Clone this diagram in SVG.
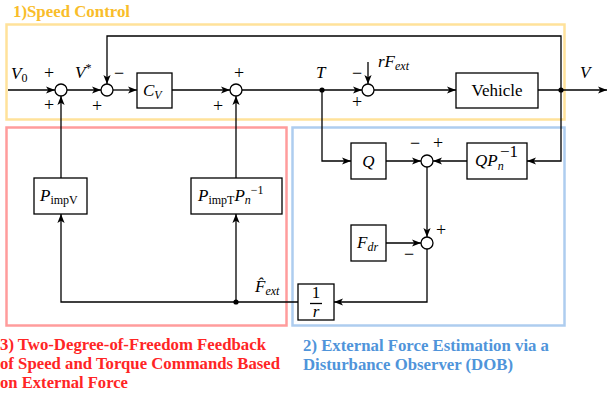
<svg xmlns="http://www.w3.org/2000/svg" width="608" height="394" viewBox="0 0 608 394">
  <style>
    .wire { fill: none; stroke: #000; stroke-width: 1.3; }
    .arr { marker-end: url(#tip); }
    .blk { fill: #fff; stroke: #000; stroke-width: 1.3; }
    .sum { fill: #fff; stroke: #000; stroke-width: 1.3; }
    .dot { fill: #000; }
    .m { font-style: italic; font-size: 17px; fill: #000; }
    .r { font-style: normal; font-size: 17px; fill: #000; }
    .sg { font-size: 18px; fill: #000; text-anchor: middle; }
    .cap { font-weight: bold; font-size: 16.5px; }
  </style>
  <defs>
    <marker id="tip" viewBox="0 0 10 8" refX="10" refY="4" markerWidth="9" markerHeight="7.5" markerUnits="userSpaceOnUse" orient="auto">
      <path d="M0,0 L10,4 L0,8 L2.5,4 z" fill="#000"/>
    </marker>
  </defs>

  <!-- section frames -->
  <g id="frames" fill="none" stroke-width="2.5">
    <rect x="6.5" y="24.5" width="558" height="95" stroke="#FFE29A"/>
    <rect x="6.5" y="127.5" width="280" height="198" stroke="#FF9C9C"/>
    <rect x="292.5" y="127.5" width="272" height="198" stroke="#AECDEF"/>
  </g>

  <g font-family="'Liberation Serif', 'Times New Roman', serif">
  <!-- section captions -->
  <g id="captions">
    <text class="cap" x="13" y="17" fill="#F9BD2A" textLength="117" lengthAdjust="spacingAndGlyphs">1)Speed Control</text>
    <text class="cap" fill="#FF2525">
      <tspan x="0" y="350" textLength="266" lengthAdjust="spacingAndGlyphs">3) Two-Degree-of-Freedom Feedback</tspan>
      <tspan x="0" y="369" textLength="280" lengthAdjust="spacingAndGlyphs">of Speed and Torque Commands Based</tspan>
      <tspan x="0" y="388" textLength="128" lengthAdjust="spacingAndGlyphs">on External Force</tspan>
    </text>
    <text class="cap" fill="#4F94DA">
      <tspan x="303" y="351" textLength="246" lengthAdjust="spacingAndGlyphs">2) External Force Estimation via a</tspan>
      <tspan x="303" y="370" textLength="210" lengthAdjust="spacingAndGlyphs">Disturbance Observer (DOB)</tspan>
    </text>
  </g>

  <!-- connectors -->
  <g id="connectors">
    <line class="wire arr" x1="8" y1="90" x2="55" y2="90"/>
    <line class="wire arr" x1="67" y1="90" x2="101" y2="90"/>
    <line class="wire arr" x1="113" y1="90" x2="137" y2="90"/>
    <line class="wire arr" x1="172" y1="90" x2="230" y2="90"/>
    <line class="wire arr" x1="242" y1="90" x2="362" y2="90"/>
    <line class="wire arr" x1="374" y1="90" x2="456" y2="90"/>
    <line class="wire arr" x1="538" y1="90" x2="607" y2="90"/>
    <polyline class="wire arr" points="561,90 561,36 107,36 107,84"/>
    <line class="wire arr" x1="368" y1="62" x2="368" y2="84"/>
    <line class="wire arr" x1="61" y1="178" x2="61" y2="96"/>
    <line class="wire arr" x1="236" y1="178" x2="236" y2="96"/>
    <polyline class="wire arr" points="298,302 61,302 61,214"/>
    <line class="wire arr" x1="236" y1="302" x2="236" y2="214"/>
    <polyline class="wire arr" points="322,90 322,161 351,161"/>
    <line class="wire arr" x1="386" y1="161" x2="421" y2="161"/>
    <polyline class="wire arr" points="561,90 561,161 527,161"/>
    <line class="wire arr" x1="467" y1="161" x2="433" y2="161"/>
    <line class="wire arr" x1="427" y1="167" x2="427" y2="237"/>
    <line class="wire arr" x1="386" y1="243" x2="421" y2="243"/>
    <polyline class="wire arr" points="427,249 427,302 334,302"/>
    <circle class="dot" cx="322" cy="90" r="2.6"/>
    <circle class="dot" cx="561" cy="90" r="2.6"/>
    <circle class="dot" cx="236" cy="302" r="2.6"/>
  </g>

  <!-- signal labels -->
  <g id="signals">
    <text class="m" x="11" y="79">V<tspan font-style="normal" font-size="12" dy="3">0</tspan></text>
    <text class="m" x="75" y="78">V<tspan font-style="normal" font-size="12" dy="-6">*</tspan></text>
    <text class="m" x="316" y="78">T</text>
    <text class="m" x="580" y="78">V</text>
    <text class="m" x="378" y="67">rF<tspan font-size="12" dy="3">ext</tspan></text>
    <text class="m" x="255" y="292">F̂<tspan font-size="12" dy="3">ext</tspan></text>
  </g>

  <!-- summing junctions with signs -->
  <g id="sum1">
    <circle class="sum" cx="61" cy="90" r="6"/>
    <text class="sg" x="49" y="79">+</text>
    <text class="sg" x="49" y="111">+</text>
  </g>
  <g id="sum2">
    <circle class="sum" cx="107" cy="90" r="6"/>
    <text class="sg" x="119" y="79">−</text>
    <text class="sg" x="97" y="112">+</text>
  </g>
  <g id="sum3">
    <circle class="sum" cx="236" cy="90" r="6"/>
    <text class="sg" x="239" y="79">+</text>
    <text class="sg" x="218" y="112">+</text>
  </g>
  <g id="sum4">
    <circle class="sum" cx="368" cy="90" r="6"/>
    <text class="sg" x="357" y="79">−</text>
    <text class="sg" x="357" y="108">+</text>
  </g>
  <g id="sum5">
    <circle class="sum" cx="427" cy="161" r="6"/>
    <text class="sg" x="415" y="149">−</text>
    <text class="sg" x="438" y="149">+</text>
  </g>
  <g id="sum6">
    <circle class="sum" cx="427" cy="243" r="6"/>
    <text class="sg" x="441" y="236">+</text>
    <text class="sg" x="409" y="260">−</text>
  </g>

  <!-- blocks -->
  <g id="Cv">
    <rect class="blk" x="137" y="73" width="35" height="35"/>
    <text class="m" x="143" y="96">C<tspan font-size="12" dy="3">V</tspan></text>
  </g>
  <g id="vehicle">
    <rect class="blk" x="456" y="73" width="82" height="35"/>
    <text class="r" x="497" y="96" text-anchor="middle">Vehicle</text>
  </g>
  <g id="PimpV">
    <rect class="blk" x="34" y="178" width="53" height="36"/>
    <text class="m" x="40" y="201">P<tspan font-style="normal" font-size="12" dy="3">impV</tspan></text>
  </g>
  <g id="PimpT">
    <rect class="blk" x="191" y="178" width="91" height="36"/>
    <text class="m" x="198" y="201">P<tspan font-style="normal" font-size="12" dy="3">impT</tspan><tspan dy="-3">P</tspan><tspan font-size="12" dy="3">n</tspan><tspan font-style="normal" font-size="12" dy="-10">−1</tspan></text>
  </g>
  <g id="Q">
    <rect class="blk" x="351" y="143" width="35" height="36"/>
    <text class="m" x="368.5" y="167" text-anchor="middle">Q</text>
  </g>
  <g id="QPn">
    <rect class="blk" x="467" y="143" width="60" height="36"/>
    <text class="m" x="475" y="166">QP<tspan font-size="12" dy="4">n</tspan></text>
    <text class="r" x="500" y="157" font-size="12">−1</text>
  </g>
  <g id="Fdr">
    <rect class="blk" x="351" y="225" width="35" height="36"/>
    <text class="m" x="357" y="248">F<tspan font-size="12" dy="3">dr</tspan></text>
  </g>
  <g id="inv_r">
    <rect class="blk" x="298" y="284" width="36" height="36"/>
    <text class="r" x="316" y="298" text-anchor="middle" font-size="15">1</text>
    <line x1="310" y1="303.5" x2="322" y2="303.5" stroke="#000" stroke-width="1.3"/>
    <text class="m" x="316" y="317" text-anchor="middle" font-size="15">r</text>
  </g>
  </g>
</svg>
